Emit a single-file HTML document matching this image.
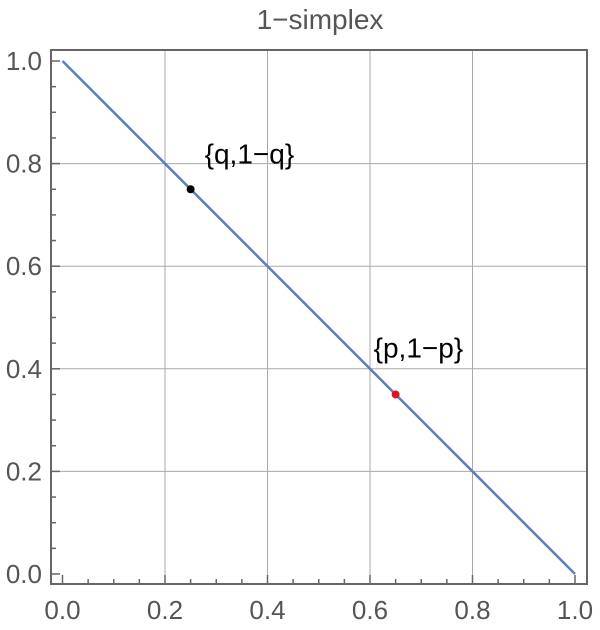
<!DOCTYPE html>
<html><head><meta charset="utf-8"><style>
body{margin:0;background:#fff;}
svg{display:block;font-family:"Liberation Sans",sans-serif;}
</style></head><body>
<svg width="600" height="630">
<text x="320" y="29" text-anchor="middle" font-size="28" fill="#555">1−simplex</text>
<g id="grid"></g>
<rect x="51" y="50" width="536" height="534" fill="none" stroke="#666" stroke-width="2"/>
<g id="ticks"></g>
<g id="marks"></g>
</svg>
<script>
const tickVals=[0,0.2,0.4,0.6,0.8,1.0];
const tickLabels=["0.0","0.2","0.4","0.6","0.8","1.0"];
const lineX=[0,1];
const lineY=[1,0];
const pointNames=["q","p"];
const pointX=[0.25,0.65];
const pointY=[0.75,0.35];
const pointColors=["#000","#e0141e"];
const pointLabels=["{q,1−q}","{p,1−p}"];
const NS="http://www.w3.org/2000/svg";
const sx=v=>62.5+v*512.5;
const sy=v=>574-v*513;
const labelDx=[14,-22], labelDy=[-26,-37];
function mk(t,a,p){const e=document.createElementNS(NS,t);for(const k in a)e.setAttribute(k,a[k]);p.appendChild(e);return e;}
const grid=document.getElementById('grid'),ticks=document.getElementById('ticks'),marks=document.getElementById('marks');
tickVals.forEach((v,i)=>{
 if(v>0&&v<1){
  let g=mk('line',{x1:sx(v),x2:sx(v),y1:50,y2:584,stroke:'#aaa','stroke-width':1},grid);
  
  g=mk('line',{x1:51,x2:587,y1:sy(v),y2:sy(v),stroke:'#aaa','stroke-width':1},grid);
  
 }
 let t=mk('text',{x:sx(v),y:619,'text-anchor':'middle','font-size':26,fill:'#555'},ticks);t.textContent=tickLabels[i];
 
 t=mk('text',{x:42,y:sy(v)+9,'text-anchor':'end','font-size':26,fill:'#555'},ticks);t.textContent=tickLabels[i];
 
});
for(let k=0;k<=20;k++){const v=k/20,len=(k%4===0)?9:5;
 let l=mk('line',{x1:sx(v),x2:sx(v),y1:584,y2:584-len,stroke:'#666','stroke-width':1.5},ticks);
 
 l=mk('line',{x1:51,x2:51+len,y1:sy(v),y2:sy(v),stroke:'#666','stroke-width':1.5},ticks);
 
}
const ln=mk('line',{x1:sx(lineX[0]),y1:sy(lineY[0]),x2:sx(lineX[1]),y2:sy(lineY[1]),stroke:'#5b7fbd','stroke-width':2.5},marks);

pointX.forEach((x,i)=>{
 const c=mk('circle',{cx:sx(x),cy:sy(pointY[i]),r:4,fill:pointColors[i]},marks);
 
 const t=mk('text',{x:sx(x)+labelDx[i],y:sy(pointY[i])+labelDy[i],'font-size':28,fill:'#000'},marks);t.textContent=pointLabels[i];
 
});
</script>
</body></html>
